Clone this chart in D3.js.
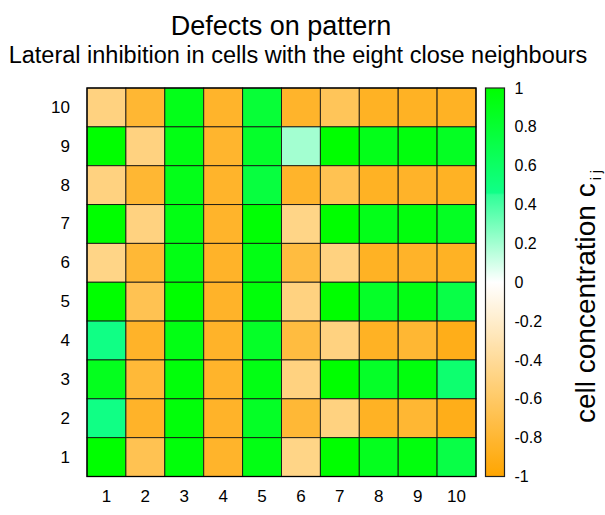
<!DOCTYPE html>
<html>
<head>
<meta charset="utf-8">
<script src="https://cdn.jsdelivr.net/npm/d3@7"></script>
<style>
  body { margin: 0; background: #fff; }
  text { font-family: "Liberation Sans", Arial, sans-serif; fill: #000; }
</style>
</head>
<body>
<svg id="chart" width="605" height="515"></svg>
<script>
// columns (x) and rows (y) of the cell grid
var cols = [1, 2, 3, 4, 5, 6, 7, 8, 9, 10];
var rows = [10, 9, 8, 7, 6, 5, 4, 3, 2, 1];

// cell concentration, one array per row, from top row (10) to bottom row (1)
var row10 = [-0.5, -0.8, 0.9, -0.83, 0.78, -0.83, -0.65, -0.86, -0.86, -0.86];
var row9  = [1, -0.5, 0.92, -0.82, 0.83, 0.2, 1, 0.9, 0.95, 0.86];
var row8  = [-0.5, -0.8, 0.9, -0.83, 0.75, -0.83, -0.68, -0.86, -0.84, -0.86];
var row7  = [1, -0.5, 0.92, -0.83, 0.98, -0.47, 1, 0.9, 0.95, 0.86];
var row6  = [-0.47, -0.79, 0.92, -0.84, 0.92, -0.75, -0.5, -0.86, -0.84, -0.86];
var row5  = [1, -0.68, 1, -0.84, 0.96, -0.5, 1, 0.84, 0.92, 0.72];
var row4  = [0.47, -0.84, 0.92, -0.84, 0.84, -0.75, -0.5, -0.86, -0.8, -0.9];
var row3  = [0.88, -0.78, 0.96, -0.83, 0.92, -0.5, 1, 0.84, 0.95, 0.56];
var row2  = [0.47, -0.84, 0.96, -0.84, 0.85, -0.79, -0.5, -0.86, -0.8, -0.9];
var row1  = [1, -0.68, 0.96, -0.83, 0.92, -0.47, 1, 0.88, 0.95, 0.72];
var grid = [row10, row9, row8, row7, row6, row5, row4, row3, row2, row1];

// colour bar ticks
var cbTicks = [-1, -0.8, -0.6, -0.4, -0.2, 0, 0.2, 0.4, 0.6, 0.8, 1];
var cbLabels = ["-1", "-0.8", "-0.6", "-0.4", "-0.2", "0", "0.2", "0.4", "0.6", "0.8", "1"];

var svg = d3.select("#chart");
var plotLeft = 87, plotRight = 476, plotTop = 88, plotBottom = 476.5;

var x = d3.scaleBand().domain(cols).range([plotLeft, plotRight]);
var y = d3.scaleBand().domain(rows).range([plotTop, plotBottom]);

var color = d3.scaleLinear()
  .domain([-1, 0, 0.45, 0.46, 1])
  .range(["#FFA500", "#FFFFFF", "#30FF98", "#10FF88", "#00FF00"])
  .clamp(true);

var cells = [];
grid.forEach(function(r, i) {
  r.forEach(function(v, j) {
    cells.push({ row: rows[i], col: cols[j], v: v });
  });
});

svg.append("g")
  .selectAll("rect")
  .data(cells)
  .enter()
  .append("rect")
  .attr("x", function(d) { return x(d.col); })
  .attr("y", function(d) { return y(d.row); })
  .attr("width", x.bandwidth())
  .attr("height", y.bandwidth())
  .attr("fill", function(d) { return color(d.v); })
  .attr("stroke", "#111")
  .attr("stroke-opacity", 0.85)
  .attr("stroke-width", 1);

svg.append("rect")
  .attr("x", plotLeft).attr("y", plotTop)
  .attr("width", plotRight - plotLeft).attr("height", plotBottom - plotTop)
  .attr("fill", "none").attr("stroke", "#000").attr("stroke-width", 1.3);

// axes
var xAxis = svg.append("g")
  .attr("transform", "translate(0," + (plotBottom + 13) + ")")
  .call(d3.axisBottom(x).tickSize(0));
xAxis.select(".domain").remove();
xAxis.selectAll("text").style("font-size", "17px").attr("y", 0).attr("dy", "0.75em");

var yAxis = svg.append("g")
  .attr("transform", "translate(" + (plotLeft - 17) + ",0)")
  .call(d3.axisLeft(y).tickSize(0));
yAxis.select(".domain").remove();
yAxis.selectAll("text").style("font-size", "17px").attr("x", 0);

// colour bar
var cbLeft = 485.5, cbWidth = 19;
var cbScale = d3.scaleLinear().domain([-1, 1]).range([plotBottom, plotTop]);

var grad = svg.append("defs").append("linearGradient")
  .attr("id", "cbGrad")
  .attr("x1", "0").attr("y1", "1").attr("x2", "0").attr("y2", "0");
d3.range(0, 201).forEach(function(k) {
  var v = -1 + k / 100;
  grad.append("stop")
    .attr("offset", (k / 200 * 100) + "%")
    .attr("stop-color", color(v));
});

svg.append("rect")
  .attr("x", cbLeft).attr("y", plotTop)
  .attr("width", cbWidth).attr("height", plotBottom - plotTop)
  .attr("fill", "url(#cbGrad)")
  .attr("stroke", "#222").attr("stroke-width", 1.2);

var cbAxis = svg.append("g")
  .attr("transform", "translate(" + (cbLeft + cbWidth + 10) + ",0)")
  .call(d3.axisRight(cbScale).tickValues(cbTicks).tickSize(0)
    .tickFormat(function(d, i) { return cbLabels[i]; }));
cbAxis.select(".domain").remove();
cbAxis.selectAll("text").style("font-size", "16px").attr("x", 0);

// colour bar title
var cbTitle = svg.append("text")
  .attr("transform", "translate(595,423) rotate(-90)")
  .attr("text-anchor", "start")
  .style("font-size", "28px");
cbTitle.append("tspan").text("cell concentration  c");
cbTitle.append("tspan").attr("dy", "6").attr("dx", "3").style("font-size", "14px").text("i j");

// titles
svg.append("text")
  .attr("x", 281).attr("y", 35)
  .attr("text-anchor", "middle")
  .style("font-size", "27px")
  .text("Defects on pattern");

svg.append("text")
  .attr("x", 298).attr("y", 63)
  .attr("text-anchor", "middle")
  .style("font-size", "23.5px")
  .text("Lateral inhibition in cells with the eight close neighbours");
</script>
</body>
</html>
